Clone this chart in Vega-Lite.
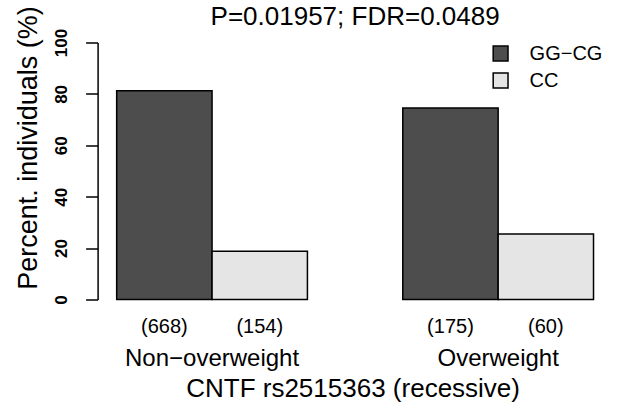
{
  "$schema": "https://vega.github.io/schema/vega-lite/v6.json",
  "autosize": "none",
  "padding": {"left": 97.6, "top": 42.5, "right": 8.4, "bottom": 107},
  "width": 515,
  "height": 257,
  "background": "white",
  "config": {
    "view": {"stroke": null},
    "font": "Liberation Sans",
    "axis": {"grid": false}
  },
  "title": {
    "text": "P=0.01957; FDR=0.0489",
    "fontSize": 26,
    "fontWeight": "normal",
    "font": "Liberation Sans",
    "color": "black",
    "anchor": "middle",
    "frame": "group",
    "baseline": "alphabetic",
    "offset": 4,
    "dy": 49
  },
  "data": {
    "values": [
      {"group": "Non−overweight", "genotype": "GG−CG", "pct": 81.27, "n": "(668)"},
      {"group": "Non−overweight", "genotype": "CC", "pct": 18.73, "n": "(154)"},
      {"group": "Overweight", "genotype": "GG−CG", "pct": 74.47, "n": "(175)"},
      {"group": "Overweight", "genotype": "CC", "pct": 25.53, "n": "(60)"}
    ]
  },
  "encoding": {
    "x": {
      "field": "group",
      "type": "nominal",
      "sort": ["Non−overweight", "Overweight"],
      "scale": {"paddingInner": 0.3333, "paddingOuter": 0.0667},
      "axis": {
        "title": "CNTF rs2515363 (recessive)",
        "titleFontSize": 26,
        "titleFontWeight": "normal",
        "titleColor": "black",
        "titleBaseline": "alphabetic",
        "titleAlign": "center",
        "titleX": 255,
        "titleY": 97,
        "domain": false,
        "ticks": false,
        "tickSize": 0,
        "labelAngle": 0,
        "labelFontSize": 24,
        "labelColor": "black",
        "labelBaseline": "alphabetic",
        "labelPadding": 66
      }
    },
    "xOffset": {
      "field": "genotype",
      "type": "nominal",
      "sort": ["GG−CG", "CC"],
      "scale": {"paddingInner": 0, "paddingOuter": 0}
    }
  },
  "layer": [
    {
      "mark": {"type": "bar", "stroke": "black", "strokeWidth": 1.5},
      "encoding": {
        "y": {
          "field": "pct",
          "type": "quantitative",
          "scale": {"domain": [0, 100], "nice": false, "zero": true},
          "axis": {
            "title": "Percent. individuals (%)",
            "titleFontSize": 27,
            "titleFontWeight": "normal",
            "titleColor": "black",
            "titleAngle": 270,
            "titleAlign": "center",
            "titleBaseline": "alphabetic",
            "titleX": -61.6,
            "titleY": 105,
            "values": [0, 20, 40, 60, 80, 100],
            "domainColor": "black",
            "domainWidth": 1.5,
            "tickColor": "black",
            "tickWidth": 1.5,
            "tickSize": 12,
            "labelAngle": 270,
            "labelAlign": "center",
            "labelBaseline": "alphabetic",
            "labelFontSize": 17,
            "labelFontWeight": "bold",
            "labelColor": "black",
            "labelPadding": 19
          }
        },
        "fill": {
          "field": "genotype",
          "type": "nominal",
          "sort": ["GG−CG", "CC"],
          "scale": {"domain": ["GG−CG", "CC"], "range": ["#4D4D4D", "#E5E5E5"]},
          "legend": {
            "title": null,
            "orient": "none",
            "legendX": 393,
            "legendY": 1,
            "symbolType": "square",
            "symbolSize": 220,
            "symbolStrokeColor": "black",
            "symbolStrokeWidth": 1.5,
            "labelFontSize": 20,
            "labelColor": "black",
            "labelOffset": 19,
            "rowPadding": 5
          }
        }
      }
    },
    {
      "mark": {"type": "text", "fontSize": 20, "baseline": "alphabetic", "dy": 33.5, "color": "black"},
      "encoding": {
        "y": {"datum": 0},
        "text": {"field": "n"}
      }
    },
    {
      "mark": {"type": "rule", "color": "black", "strokeWidth": 2},
      "encoding": {
        "y": {"datum": 0}
      }
    }
  ]
}
